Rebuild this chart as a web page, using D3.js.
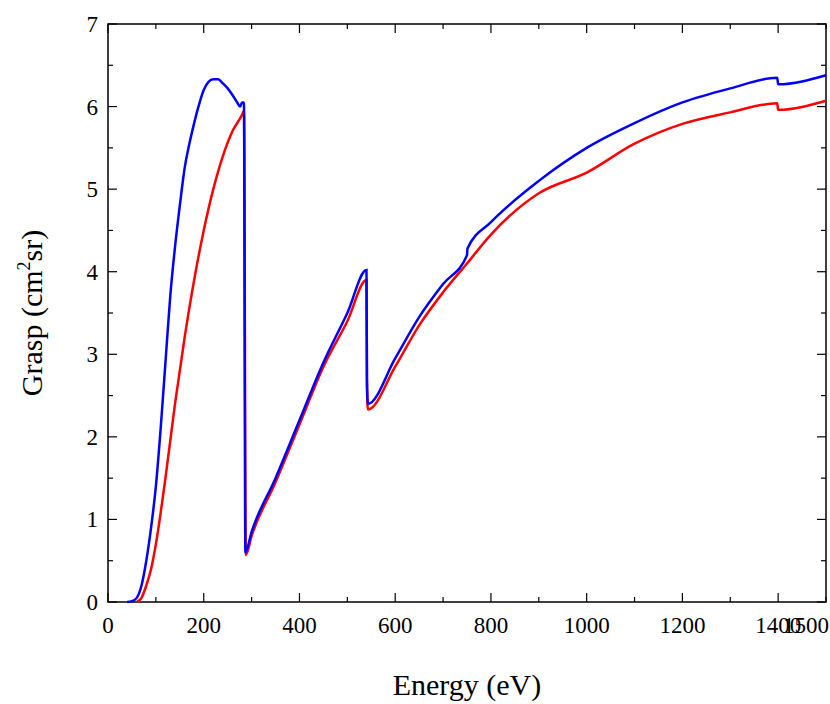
<!DOCTYPE html>
<html><head><meta charset="utf-8">
<script src="https://cdn.jsdelivr.net/npm/d3@7"></script>
<style>body{margin:0;background:#fff}</style></head>
<body><svg id="c" width="830" height="704"></svg>
<script>
const blueE=[40,50,60,70,80,90,100,110,120,130,140,150,160,170,180,190,200,210,220,230,240,250,260,270,276,280,284,287,300,350,400,450,500,540,541,543,600,650,700,750,751,800,900,1000,1100,1200,1300,1398,1400,1500];
const blueG=[0,0.01,0.05,0.2,0.5,0.9,1.4,2.1,2.9,3.7,4.3,4.8,5.25,5.55,5.8,6.02,6.2,6.3,6.33,6.33,6.28,6.22,6.14,6.05,6.0,6.05,6.05,0.6,0.85,1.5,2.2,2.9,3.5,4.02,2.7,2.4,2.95,3.45,3.85,4.2,4.28,4.6,5.1,5.5,5.8,6.05,6.22,6.35,6.27,6.38];
const redE=[60,70,80,90,100,120,140,160,180,200,220,240,260,280,284,288,300,350,400,450,500,540,541,543,600,650,700,750,800,900,1000,1100,1200,1300,1398,1400,1500];
const redG=[0,0.05,0.2,0.4,0.7,1.5,2.4,3.2,3.9,4.5,5.0,5.4,5.7,5.9,5.95,0.57,0.8,1.45,2.15,2.85,3.4,3.9,2.6,2.33,2.85,3.35,3.75,4.1,4.45,4.95,5.2,5.55,5.79,5.93,6.04,5.96,6.07];
const xTicks=[0,200,400,600,800,1000,1200,1400,1500];
const yTicks=[0,1,2,3,4,5,6,7];
const svg=d3.select("#c");
const L=108,R=826,T=24,B=602;
const x=d3.scaleLinear().domain([0,1500]).range([L,R]);
const y=d3.scaleLinear().domain([0,7]).range([B,T]);
const font="Liberation Serif, Times New Roman, serif";
svg.append("rect").attr("x",L).attr("y",T).attr("width",R-L).attr("height",B-T).attr("fill","none").attr("stroke","#000").attr("stroke-width",1.5);
const g=svg.append("g");
d3.range(0,1501,100).forEach(v=>{const len=v%200===0?9:5;
 [[B,-1],[T,1]].forEach(([yy,d])=>g.append("line").attr("x1",x(v)).attr("x2",x(v)).attr("y1",yy).attr("y2",yy+d*len).attr("stroke","#000").attr("stroke-width",1.2));});
d3.range(0,7.01,0.5).forEach(v=>{const len=Math.abs(v%1)<1e-9?9:5;
 [[L,1],[R,-1]].forEach(([xx,d])=>g.append("line").attr("y1",y(v)).attr("y2",y(v)).attr("x1",xx).attr("x2",xx+d*len).attr("stroke","#000").attr("stroke-width",1.2));});
xTicks.forEach(v=>{const last=v===1500;
 g.append("text").attr("x",last?829:x(v)).attr("y",B+31).attr("text-anchor",last?"end":"middle").attr("font-family",font).attr("font-size",23).text(v);});
yTicks.forEach(v=>g.append("text").attr("x",L-10).attr("y",y(v)+8).attr("text-anchor","end").attr("font-family",font).attr("font-size",23).text(v));
svg.append("text").attr("x",(L+R)/2).attr("y",695).attr("text-anchor","middle").attr("font-family",font).attr("font-size",30).text("Energy (eV)");
const yl=svg.append("text").attr("transform",`translate(42,${(T+B)/2}) rotate(-90)`).attr("text-anchor","middle").attr("font-family",font).attr("font-size",30);
yl.append("tspan").text("Grasp (cm");
yl.append("tspan").attr("font-size",18).attr("dy",-12).text("2");
yl.append("tspan").attr("dy",12).text("sr)");
const line=d3.line().x(d=>x(d[0])).y(d=>y(d[1])).curve(d3.curveMonotoneX);
svg.append("path").datum(redE.map((e,i)=>[e,redG[i]])).attr("d",line).attr("fill","none").attr("stroke","#f00").attr("stroke-width",2.5);
svg.append("path").datum(blueE.map((e,i)=>[e,blueG[i]])).attr("d",line).attr("fill","none").attr("stroke","#00f").attr("stroke-width",2.5);
</script></body></html>
